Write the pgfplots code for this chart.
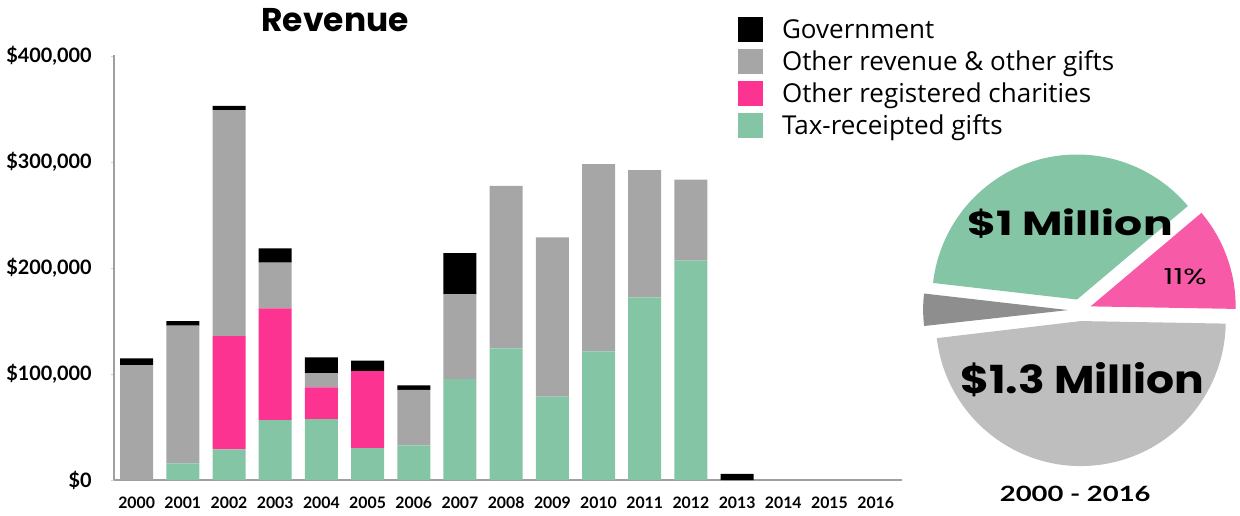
\documentclass[border=0pt]{standalone}
\usepackage{pgfplots}
\pgfplotsset{compat=1.18}
\usepackage{pgfplotstable}
\usepackage{graphicx}
\usepackage{fontspec}
\setmainfont{Lato}
\newfontfamily\pop{Poppins}
\newfontfamily\osans{Open Sans}

\definecolor{taxgreen}{HTML}{84C5A5}
\definecolor{charpink}{HTML}{FC3391}
\definecolor{othergray}{HTML}{A6A6A6}
\definecolor{piepink}{HTML}{F75BA8}
\definecolor{pielight}{HTML}{BEBEBE}
\definecolor{piedark}{HTML}{8E8E8E}
\definecolor{axgray}{HTML}{A0A0A0}

% yearly revenue by source (dollars); x = year - 2000
\pgfplotstableread{
x   tax     char    other   gov
0   0       0       108500  6300
1   15700   0       129900  4400
2   28900   106900  213200  4000
3   56600   105300  43100   13500
4   57500   29900   13200   15100
5   30200   72600   0       9800
6   32600   0       52400   4300
7   95300   0       80100   38600
8   124200  0       153400  0
9   78600   0       150300  0
10  121400  0       176600  0
11  172300  0       120100  0
12  206900  0       76400   0
13  0       0       0       5700
14  0       0       0       0
15  0       0       0       0
16  0       0       0       0
}\revenue

% 2000-2016 totals (thousands of dollars) for the pie
\def\ptax{1020}
\def\pchar{315}
\def\pgov{102}
\def\pother{1318}

\begin{document}
\begin{tikzpicture}
\useasboundingbox (0,0) rectangle (24.8cm,-10.3cm);
% pie angles
\pgfmathsetmacro\tot{\ptax+\pchar+\pgov+\pother}
\pgfmathsetmacro\aA{-1}
\pgfmathsetmacro\aB{\aA+360*(\pchar/\tot)}
\pgfmathsetmacro\aC{\aB+360*(\ptax/\tot)}
\pgfmathsetmacro\aD{\aC+360*(\pgov/\tot)}
\pgfmathsetmacro\aE{\aD+360*(\pother/\tot)}
\def\cx{1080}\def\cy{-310}\def\R{145}\def\ex{11}
% slice centres (exploded) and start points
\pgfmathsetmacro\mA{(\aA+\aB)/2}\pgfmathsetmacro\oxA{\cx+\ex*cos(\mA)}\pgfmathsetmacro\oyA{\cy+\ex*sin(\mA)}
\pgfmathsetmacro\sxA{\oxA+\R*cos(\aA)}\pgfmathsetmacro\syA{\oyA+\R*sin(\aA)}
\pgfmathsetmacro\mB{(\aB+\aC)/2}\pgfmathsetmacro\oxB{\cx+\ex*cos(\mB)}\pgfmathsetmacro\oyB{\cy+\ex*sin(\mB)}
\pgfmathsetmacro\sxB{\oxB+\R*cos(\aB)}\pgfmathsetmacro\syB{\oyB+\R*sin(\aB)}
\pgfmathsetmacro\mC{(\aC+\aD)/2}\pgfmathsetmacro\oxC{\cx+1.1*\ex*cos(\mC)}\pgfmathsetmacro\oyC{\cy+1.1*\ex*sin(\mC)}
\pgfmathsetmacro\sxC{\oxC+\R*cos(\aC)}\pgfmathsetmacro\syC{\oyC+\R*sin(\aC)}
\pgfmathsetmacro\mD{(\aD+\aE)/2}\pgfmathsetmacro\oxD{\cx+\ex*cos(\mD)}\pgfmathsetmacro\oyD{\cy+\ex*sin(\mD)}
\pgfmathsetmacro\sxD{\oxD+\R*cos(\aD)}\pgfmathsetmacro\syD{\oyD+\R*sin(\aD)}

\begin{axis}[
  at={(2.28cm,-9.6cm)}, anchor=south west,
  scale only axis, width=15.76cm, height=8.5cm,
  ybar stacked, bar width=0.66cm,
  xmin=-0.49, xmax=16.57, ymin=0, ymax=401000,
  enlargelimits=false,
  axis x line=bottom, axis y line=left,
  axis line style={-, axgray, line width=0.8pt},
  xtick={0,...,16},
  xticklabels={2000,2001,2002,2003,2004,2005,2006,2007,2008,2009,2010,2011,2012,2013,2014,2015,2016},
  ytick={0,100000,200000,300000,400000},
  yticklabels={{\$0},{\$100,000},{\$200,000},{\$300,000},{\$400,000}},
  scaled y ticks=false,
  x tick style={draw=none},
  y tick style={axgray!50, line width=0.4pt},
  tick align=outside, major tick length=0.06cm,
  xticklabel style={font=\bfseries\fontsize{9}{10}\selectfont, inner sep=0pt, yshift=-0.28cm},
  yticklabel style={font=\bfseries\fontsize{11.3}{12}\selectfont, inner sep=0pt, xshift=-0.38cm},
  reverse legend,
  legend image code/.code={\fill[#1] (0cm,-0.25cm) rectangle (0.5cm,0.25cm);},
  legend style={at={(0.7919,1.0965)}, anchor=north west, draw=none, fill=none,
    inner sep=0pt, outer sep=0pt, font=\osans\fontsize{14.8}{16}\selectfont,
    row sep=0pt, column sep=0.38cm,
    nodes={inner sep=0pt, minimum height=0.64cm}},
  legend cell align=left,
]
\addplot[fill=taxgreen, draw=none] table[x=x, y=tax] {\revenue};
\addplot[fill=charpink, draw=none] table[x=x, y=char] {\revenue};
\addplot[fill=othergray, draw=none] table[x=x, y=other] {\revenue};
\addplot[fill=black, draw=none] table[x=x, y=gov] {\revenue};
\legend{Tax-receipted gifts, Other registered charities, Other revenue \& other gifts, Government}
\end{axis}

\begin{axis}[
  at={(0,0)}, anchor=north west,
  x=0.02cm, y=0.02cm, xmin=0, xmax=1240, ymin=-515, ymax=0,
  hide axis, clip=false,
]
\fill[piepink] (axis cs:\oxA,\oyA) -- (axis cs:\sxA,\syA) arc[start angle=\aA, end angle=\aB, radius=2.9cm] -- cycle;
\fill[taxgreen] (axis cs:\oxB,\oyB) -- (axis cs:\sxB,\syB) arc[start angle=\aB, end angle=\aC, radius=2.9cm] -- cycle;
\fill[piedark] (axis cs:\oxC,\oyC) -- (axis cs:\sxC,\syC) arc[start angle=\aC, end angle=\aD, radius=2.8cm] -- cycle;
\fill[pielight] (axis cs:\oxD,\oyD) -- (axis cs:\sxD,\syD) arc[start angle=\aD, end angle=\aE, radius=2.9cm] -- cycle;
\node[font=\pop\bfseries\fontsize{18.7}{20}\selectfont] at (axis cs:335,-20) {Revenue};
\node[font=\pop\bfseries\fontsize{19}{20}\selectfont] at (axis cs:1070,-224) {\scalebox{1.32}[1]{\$1 Million}};
\node[font=\pop\bfseries\fontsize{22}{24}\selectfont] at (axis cs:1082,-380) {\scalebox{1.14}[1]{\$1.3 Million}};
\node[font=\pop\fontsize{12.5}{14}\selectfont] at (axis cs:1185,-277) {\scalebox{1.4}[1]{11\%}};
\node[font=\bfseries\fontsize{12}{13}\selectfont] at (axis cs:1075,-494) {\scalebox{1.3}[1]{2000 - 2016}};
\end{axis}
\end{tikzpicture}
\end{document}
